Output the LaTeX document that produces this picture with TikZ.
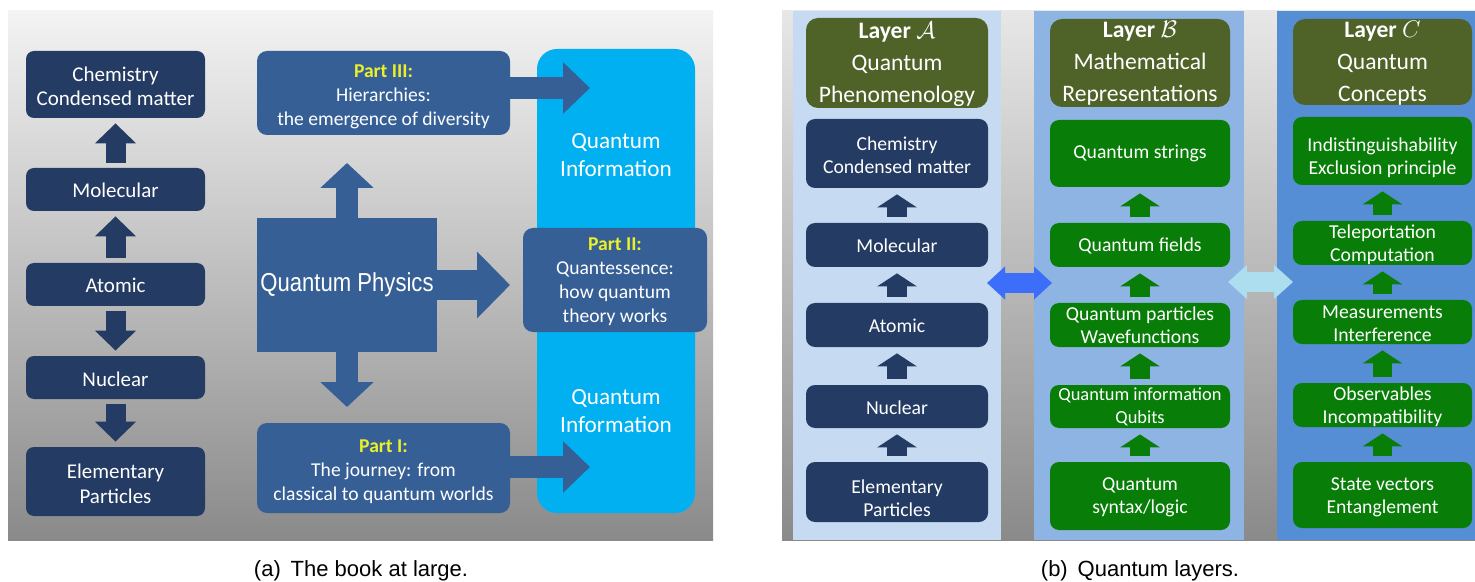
\documentclass[tikz,border=0pt]{standalone}
\usepackage{fontspec}
\setmainfont{Carlito}
\newfontfamily\arialfont{Liberation Sans}
\newfontfamily\qpfont[FakeStretch=0.85]{Liberation Sans}
\usetikzlibrary{arrows.meta,calc}
\newcommand\mystrut{\rule{0pt}{10pt}}
\definecolor{navy}{RGB}{36,59,99}
\definecolor{partblue}{RGB}{54,95,150}
\definecolor{qcyan}{RGB}{0,176,240}
\definecolor{pyellow}{RGB}{235,240,40}
\definecolor{olivehd}{RGB}{79,98,40}
\definecolor{qgreen}{RGB}{8,125,8}
\definecolor{colA}{RGB}{198,218,241}
\definecolor{colB}{RGB}{142,180,227}
\definecolor{colC}{RGB}{85,142,213}
\definecolor{dblue}{RGB}{60,110,250}
\definecolor{lcyan}{RGB}{172,222,240}
\definecolor{bgtop}{RGB}{243,243,243}
\definecolor{bgbot}{RGB}{138,138,138}
\tikzset{
  sz/.style 2 args={minimum width=#1*0.5pt, minimum height=#2*0.5pt},
  base/.style={inner sep=0pt},
  navyA/.style={base, fill=navy, rounded corners=4pt},
  partbox/.style={base, fill=partblue, rounded corners=5pt},
  navyB/.style={base, fill=navy, rounded corners=4.5pt},
  greenB/.style={base, fill=qgreen, rounded corners=4.5pt},
  hdr/.style={base, fill=olivehd, rounded corners=6pt},
  txt/.style={anchor=north, inner sep=0pt, align=center, text=white},
  tA/.style={txt, font=\fontsize{10.5}{12.25}\selectfont},
  tP/.style={txt, font=\fontsize{9.8}{12}\selectfont},
  tQ/.style={txt, font=\fontsize{11.6}{14}\selectfont},
  tB/.style={txt, font=\fontsize{9.85}{11.5}\selectfont},
  tBs/.style={txt, font=\fontsize{9.2}{11.6}\selectfont},
  tH/.style={txt, font=\fontsize{11.8}{16}\selectfont},
  blkA/.style={draw=navy, line width=10pt, -{Triangle[length=10pt,width=20pt]}, shorten <=2.5pt, shorten >=2.5pt},
  blkB/.style={draw=#1, line width=9.75pt, -{Triangle[length=6.5pt,width=19.5pt]}, shorten <=3pt, shorten >=3pt},
  qparrow/.style={draw=partblue, line width=11pt, -{Triangle[length=12.5pt,width=26pt]}},
  partarrow/.style={draw=partblue, line width=11pt, -{Triangle[length=13.5pt,width=25pt]}}
}
\begin{document}
\begin{tikzpicture}[x=0.5pt, y=-0.5pt]
\useasboundingbox (0,0) rectangle (1475,582);
% ---------- panel (a) ----------
\shade[top color=bgtop, bottom color=bgbot] (8,11) rectangle (713,540);
\node[navyA, sz={179}{67}] (chemA) at (115.5,84.5) {};
\node[navyA, sz={179}{43}] (molA) at (115.5,189.5) {};
\node[navyA, sz={179}{43}] (atomA) at (115.5,284.5) {};
\node[navyA, sz={179}{43}] (nucA) at (115.5,377.5) {};
\node[navyA, sz={179}{69}] (elemA) at (115.5,481.5) {};
\node[tA] (chemAt) at ($(chemA.center)+(0,-23.5)$) {\mystrut Chemistry\\Condensed matter};
\node[tA] (molAt) at ($(molA.center)+(0,-12.8)$) {\mystrut Molecular};
\node[tA] (atomAt) at ($(atomA.center)+(0,-12.8)$) {\mystrut Atomic};
\node[tA] (nucAt) at ($(nucA.center)+(0,-11.8)$) {\mystrut Nuclear};
\node[tA] (elemAt) at ($(elemA.center)+(0,-23.2)$) {\mystrut Elementary\\Particles};
\draw[blkA] (molA.north) -- (chemA.south);
\draw[blkA] (atomA.north) -- (molA.south);
\draw[blkA] (atomA.south) -- (nucA.north);
\draw[blkA] (nucA.south) -- (elemA.north);

\node[base, fill=qcyan, rounded corners=10pt, sz={158}{464}] (qinfo) at (616,281) {};
\node[tQ] (qi1) at ($(qinfo.north)+(0,79.3)$) {\mystrut Quantum\\Information};
\node[tQ] (qi2) at ($(qinfo.north)+(0,335.3)$) {\mystrut Quantum\\Information};

\node[partbox, sz={253}{84}] (p3) at (383.5,93) {};
\node[tP] (p3t) at ($(p3.center)+(0,-36.3)$) {\mystrut{\color{pyellow}\bfseries Part III:}\\Hierarchies:\\the emergence of diversity};
\node[partbox, sz={253}{90}] (p1) at (383.5,468) {};
\node[tP] (p1t) at ($(p1.center)+(0,-35.7)$) {\mystrut{\color{pyellow}\bfseries Part I:}\\The journey: from\\classical to quantum worlds};
\node[base, fill=partblue, sz={180}{134}] (qp) at (347,285) {};
\node[txt, font=\qpfont\fontsize{13}{15}\selectfont] (qpt) at ($(qp.center)+(0,-14)$) {\mystrut Quantum Physics};

\coordinate (t3) at (590,88);
\coordinate (t1) at (590,467);
\coordinate (qpUp) at (347,163);
\coordinate (qpDn) at (347,407);
\coordinate (qpR) at (510,285);
\draw[partarrow] (p3.east |- t3) -- (t3);
\draw[partarrow] (p1.east |- t1) -- (t1);
\draw[qparrow] (qp.north) -- (qpUp);
\draw[qparrow] (qp.south) -- (qpDn);
\draw[draw=partblue, line width=15pt, -{Triangle[length=16.5pt,width=32.5pt]}] (qp.east) -- (qpR);

\node[partbox, sz={184}{104}] (p2) at (615,280) {};
\node[tP] (p2t) at ($(p2.center)+(0,-50)$) {\mystrut{\color{pyellow}\bfseries Part II:}\\Quantessence:\\how quantum\\theory works};

\node[font=\arialfont\fontsize{11}{13}\selectfont, anchor=base, inner sep=0pt] (capA) at (361,576) {(a)\hspace{0.45em}The book at large.};

% ---------- panel (b) ----------
\shade[top color=bgtop!95!black, bottom color=bgbot] (782,11) rectangle (1475,540);
\fill[colA] (793,11) rectangle (1001,540);
\fill[colB] (1034,11) rectangle (1244,540);
\fill[colC] (1277,11) rectangle (1475,540);

% column A
\node[hdr, sz={182}{90}] (hA) at (897,63) {};
\node[navyB, sz={182}{69}] (a1) at (897,153.5) {};
\node[navyB, sz={182}{44}] (a2) at (897,245) {};
\node[navyB, sz={182}{44}] (a3) at (897,325) {};
\node[navyB, sz={182}{43}] (a4) at (897,406.5) {};
\node[navyB, sz={182}{60}] (a5) at (897,492) {};
\node[tH] (hAt) at ($(hA.center)+(0,-44.7)$) {\mystrut{\bfseries Layer $\mathcal{A}$}\\Quantum\\Phenomenology};
\node[tB] (a1t) at ($(a1.center)+(0,-23.5)$) {\mystrut Chemistry\\Condensed matter};
\node[tB] (a2t) at ($(a2.center)+(0,-13.3)$) {\mystrut Molecular};
\node[tB] (a3t) at ($(a3.center)+(0,-13.3)$) {\mystrut Atomic};
\node[tB] (a4t) at ($(a4.center)+(0,-12.5)$) {\mystrut Nuclear};
\node[tB] (a5t) at ($(a5.center)+(0,-18.7)$) {\mystrut Elementary\\Particles};
\draw[blkB=navy] (a2.north) -- (a1.south);
\draw[blkB=navy] (a3.north) -- (a2.south);
\draw[blkB=navy] (a4.north) -- (a3.south);
\draw[blkB=navy] (a5.north) -- (a4.south);

% column B
\node[hdr, sz={180}{88}] (hB) at (1140,63) {};
\node[greenB, sz={180}{67}] (b1) at (1140,153.5) {};
\node[greenB, sz={180}{44}] (b2) at (1140,245) {};
\node[greenB, sz={180}{44}] (b3) at (1140,325) {};
\node[greenB, sz={180}{43}] (b4) at (1140,406.5) {};
\node[greenB, sz={180}{68}] (b5) at (1140,496) {};
\node[tH] (hBt) at ($(hB.center)+(0,-45.5)$) {\mystrut{\bfseries Layer $\mathcal{B}$}\\Mathematical\\Representations};
\node[tB] (b1t) at ($(b1.center)+(0,-15.2)$) {\mystrut Quantum strings};
\node[tB] (b2t) at ($(b2.center)+(0,-14.3)$) {\mystrut Quantum fields};
\node[tB] (b3t) at ($(b3.center)+(0,-25)$) {\mystrut Quantum particles\\Wavefunctions};
\node[tBs] (b4t) at ($(b4.center)+(0,-26.5)$) {\mystrut Quantum information\\Qubits};
\node[tB] (b5t) at ($(b5.center)+(0,-26)$) {\mystrut Quantum\\syntax/logic};
\draw[blkB=qgreen] (b2.north) -- (b1.south);
\draw[blkB=qgreen] (b3.north) -- (b2.south);
\draw[blkB=qgreen] (b4.north) -- (b3.south);
\draw[blkB=qgreen] (b5.north) -- (b4.south);

% column C
\node[hdr, sz={179}{86}] (hC) at (1382.5,62) {};
\node[greenB, sz={179}{68}] (c1) at (1382.5,151) {};
\node[greenB, sz={179}{44}] (c2) at (1382.5,243) {};
\node[greenB, sz={179}{44}] (c3) at (1382.5,322) {};
\node[greenB, sz={179}{44}] (c4) at (1382.5,405) {};
\node[greenB, sz={179}{66}] (c5) at (1382.5,495) {};
\node[tH] (hCt) at ($(hC.center)+(0,-45.3)$) {\mystrut{\bfseries Layer $C$}\\Quantum\\Concepts};
\node[tB] (c1t) at ($(c1.center)+(0,-20.3)$) {\mystrut Indistinguishability\\Exclusion principle};
\node[tB] (c2t) at ($(c2.center)+(0,-24.7)$) {\mystrut Teleportation\\Computation};
\node[tB] (c3t) at ($(c3.center)+(0,-23.7)$) {\mystrut Measurements\\Interference};
\node[tB] (c4t) at ($(c4.center)+(0,-25)$) {\mystrut Observables\\Incompatibility};
\node[tB] (c5t) at ($(c5.center)+(0,-25)$) {\mystrut State vectors\\Entanglement};
\draw[blkB=qgreen] (c2.north) -- (c1.south);
\draw[blkB=qgreen] (c3.north) -- (c2.south);
\draw[blkB=qgreen] (c4.north) -- (c3.south);
\draw[blkB=qgreen] (c5.north) -- (c4.south);

% double arrows
\coordinate (ab1) at (987,283);
\coordinate (ab2) at (1052,283);
\coordinate (bc1) at (1228,282);
\coordinate (bc2) at (1293,282);
\draw[draw=dblue, line width=10pt, {Triangle[length=9pt,width=16pt]}-{Triangle[length=9pt,width=16pt]}] (ab1) -- (ab2);
\draw[draw=lcyan, line width=10pt, {Triangle[length=9.5pt,width=16.5pt]}-{Triangle[length=9.5pt,width=16.5pt]}] (bc1) -- (bc2);

\node[font=\arialfont\fontsize{11}{13}\selectfont, anchor=base, inner sep=0pt] (capB) at (1140,576) {(b)\hspace{0.45em}Quantum layers.};
\end{tikzpicture}
\end{document}
